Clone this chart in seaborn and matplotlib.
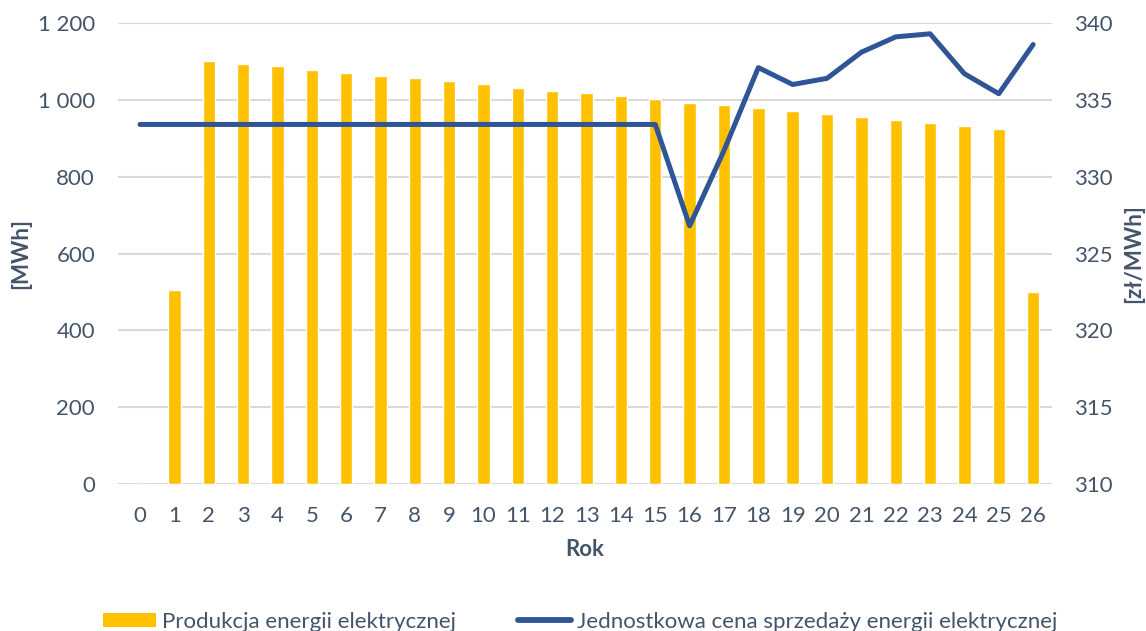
import matplotlib
matplotlib.use("Agg")
import matplotlib.pyplot as plt
import seaborn as sns
import pandas as pd
from matplotlib.patches import Patch
from matplotlib.lines import Line2D

# Years of operation
years = list(range(0, 27))

# Electricity production per year [MWh]
production = [0, 505, 1102, 1094, 1087, 1079, 1071, 1063, 1056, 1048, 1040, 1032,
              1024, 1017, 1009, 1001, 993, 986, 978, 970, 963, 955, 948, 940,
              932, 924, 500]

# Unit selling price of electricity [zł/MWh]
price = [333.4] * 16 + [326.8, 331.7, 337.1, 336.0, 336.4, 338.1, 339.1, 339.3,
                        336.7, 335.4, 338.6]

left_ticks = [0, 200, 400, 600, 800, 1000, 1200]
left_tick_labels = ["0", "200", "400", "600", "800", "1 000", "1 200"]
right_ticks = [310, 315, 320, 325, 330, 335, 340]

bar_label = "Produkcja energii elektrycznej"
line_label = "Jednostkowa cena sprzedaży energii elektrycznej"

BAR_COLOR = "#FFC000"
LINE_COLOR = "#2F5597"
TEXT_COLOR = "#44546A"
GRID_COLOR = "#D9D9D9"
FS = 16

sns.set_theme(style="white")
plt.rcParams["font.family"] = ["Lato", "DejaVu Sans"]

df = pd.DataFrame({"Rok": [str(y) for y in years], "prod": production,
                   "x": years, "price": price})

fig = plt.figure(figsize=(11.46, 6.31), dpi=100)
ax = fig.add_axes([0.103, 0.233, 0.815, 0.7305])

sns.barplot(data=df, x="Rok", y="prod", order=[str(y) for y in years],
            color=BAR_COLOR, width=0.36, saturation=1, ax=ax, zorder=2)
ax.set_ylim(0, 1200)
ax.set_yticks(left_ticks)
ax.set_yticklabels(left_tick_labels)
ax.set_xlim(-0.64, 26.55)
ax.yaxis.grid(True, color=GRID_COLOR, linewidth=1.5, zorder=0)
ax.set_axisbelow(True)
for s in ax.spines.values():
    s.set_visible(False)
ax.tick_params(axis="y", length=0, pad=16.5, labelsize=FS, labelcolor=TEXT_COLOR)
ax.tick_params(axis="x", length=0, pad=16, labelsize=FS, labelcolor=TEXT_COLOR)
ax.set_xlabel("Rok", fontsize=FS, fontweight="bold", color=TEXT_COLOR)
ax.xaxis.label.set_va("center")
ax.xaxis.set_label_coords(0.5, -0.143)
ax.set_ylabel("[MWh]", fontsize=FS, fontweight="bold", color=TEXT_COLOR)
ax.yaxis.label.set_va("center")
ax.yaxis.set_label_coords(-0.104, 0.5)

ax2 = ax.twinx()
sns.lineplot(data=df, x="x", y="price", color=LINE_COLOR, linewidth=3.6,
             ax=ax2, zorder=3)
ax2.set_ylim(310, 340)
ax2.set_yticks(right_ticks)
ax2.set_xlim(-0.64, 26.55)
for s in ax2.spines.values():
    s.set_visible(False)
ax2.grid(False)
ax2.tick_params(axis="y", length=0, pad=16, labelsize=FS, labelcolor=TEXT_COLOR)
ax2.set_ylabel("[zł/MWh]", fontsize=FS, fontweight="bold", color=TEXT_COLOR,
               rotation=90)
ax2.yaxis.label.set_va("center")
ax2.yaxis.set_label_coords(1.0878, 0.5)

handles = [Patch(facecolor=BAR_COLOR, edgecolor="none"),
           Line2D([0], [0], color=LINE_COLOR, linewidth=4.2,
                  solid_capstyle="round")]
fig.legend(handles, [bar_label, line_label], loc="center",
           bbox_to_anchor=(0.506, 0.015), ncol=2, frameon=False, fontsize=FS,
           labelcolor=TEXT_COLOR, handlelength=2.4, handletextpad=0.25,
           columnspacing=2.8, handleheight=0.6)

fig.savefig("out.png", dpi=100)
